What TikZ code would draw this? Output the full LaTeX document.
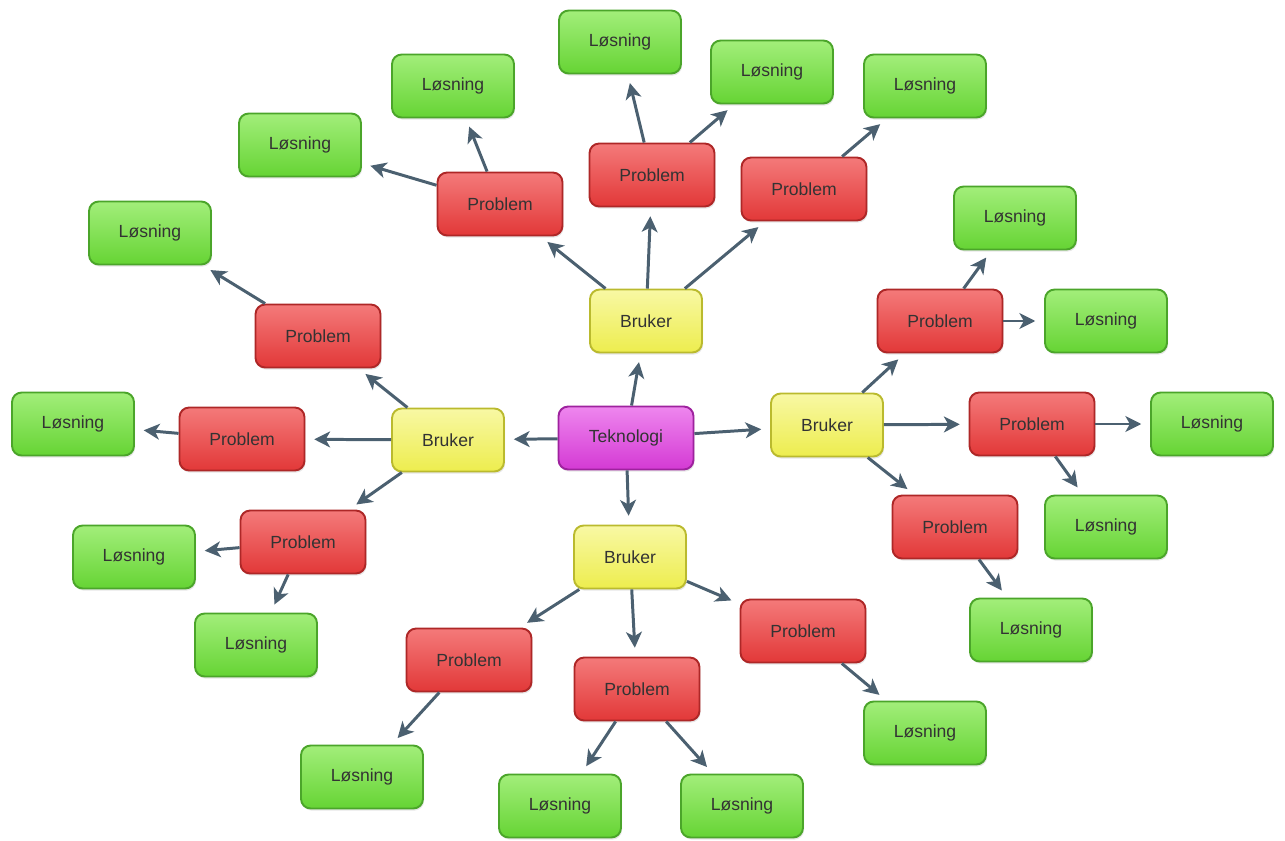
\documentclass[tikz,border=0pt]{standalone}
\usepackage{fontspec}
\setmainfont{Liberation Sans}
\usetikzlibrary{arrows.meta,shadows}
\definecolor{arrowc}{HTML}{4B6070}
\definecolor{redb}{HTML}{E23838}\definecolor{redt}{HTML}{F47A7A}\definecolor{redd}{HTML}{AE2727}
\definecolor{grnb}{HTML}{66D434}\definecolor{grnt}{HTML}{A2EE7A}\definecolor{grnd}{HTML}{4BA52A}
\definecolor{yelb}{HTML}{EDED4E}\definecolor{yelt}{HTML}{F8F8A4}\definecolor{yeld}{HTML}{BABA2E}
\definecolor{magb}{HTML}{D43AD4}\definecolor{magt}{HTML}{EE86EE}\definecolor{magd}{HTML}{9E229E}
\tikzset{
  box/.style={rounded corners=5.5pt, line width=1.1pt, minimum height=1.26cm,
    font=\fontsize{10}{12}\selectfont, text=black!80,
    drop shadow={opacity=0.2, shadow xshift=0.6pt, shadow yshift=-1.2pt}},
  tekbox/.style={box, draw=magd, top color=magt, bottom color=magb, minimum width=2.7cm},
  userbox/.style={box, draw=yeld, top color=yelt, bottom color=yelb, minimum width=2.24cm},
  probbox/.style={box, draw=redd, top color=redt, bottom color=redb, minimum width=2.5cm},
  solbox/.style={box, draw=grnd, top color=grnt, bottom color=grnb, minimum width=2.44cm},
  arr/.style={draw=arrowc, line width=1.7pt, -{Stealth[length=9pt,width=9pt,inset=2.5pt]}, shorten >=5pt}
}
\begin{document}
\begin{tikzpicture}[x=0.02cm,y=-0.02cm]
\useasboundingbox (0,0) rectangle (1285,841);
\node[tekbox] (tek) at (626,438) {Teknologi};
\node[userbox] (bT) at (646,321) {Bruker};
\node[userbox] (bL) at (448,440) {Bruker};
\node[userbox] (bR) at (827,425) {Bruker};
\node[userbox] (bB) at (630,557) {Bruker};
% top
\node[probbox] (pT1) at (500,204) {Problem};
\node[probbox] (pT2) at (652,175) {Problem};
\node[probbox] (pT3) at (804,189) {Problem};
\node[solbox] (lT1) at (453,86) {Løsning};
\node[solbox] (lT2) at (300,145) {Løsning};
\node[solbox] (lT3) at (620,42) {Løsning};
\node[solbox] (lT4) at (772,72) {Løsning};
\node[solbox] (lT5) at (925,86) {Løsning};
% left
\node[probbox] (pL1) at (318,336) {Problem};
\node[probbox] (pL2) at (242,439) {Problem};
\node[probbox] (pL3) at (303,542) {Problem};
\node[solbox] (lL1) at (150,233) {Løsning};
\node[solbox] (lL2) at (73,424) {Løsning};
\node[solbox] (lL3) at (134,557) {Løsning};
\node[solbox] (lL4) at (256,645) {Løsning};
% right
\node[probbox] (pR1) at (940,321) {Problem};
\node[probbox] (pR2) at (1032,424) {Problem};
\node[probbox] (pR3) at (955,527) {Problem};
\node[solbox] (lR1) at (1015,218) {Løsning};
\node[solbox] (lR2) at (1106,321) {Løsning};
\node[solbox] (lR3) at (1212,424) {Løsning};
\node[solbox] (lR4) at (1106,527) {Løsning};
\node[solbox] (lR5) at (1031,630) {Løsning};
% bottom
\node[probbox] (pB1) at (469,660) {Problem};
\node[probbox] (pB2) at (637,689) {Problem};
\node[probbox] (pB3) at (803,631) {Problem};
\node[solbox] (lB1) at (362,777) {Løsning};
\node[solbox] (lB2) at (560,806) {Løsning};
\node[solbox] (lB3) at (742,806) {Løsning};
\node[solbox] (lB4) at (925,733) {Løsning};
\foreach \a/\b in {tek/bT, tek/bL, tek/bR, tek/bB,
  bT/pT1, bT/pT2, bT/pT3, pT1/lT1, pT1/lT2, pT2/lT3, pT2/lT4, pT3/lT5,
  bL/pL1, bL/pL2, bL/pL3, pL1/lL1, pL2/lL2, pL3/lL3, pL3/lL4,
  bR/pR1, bR/pR2, bR/pR3, pR1/lR1, pR1/lR2, pR2/lR3, pR2/lR4, pR3/lR5,
  bB/pB1, bB/pB2, bB/pB3, pB1/lB1, pB2/lB2, pB2/lB3, pB3/lB4}
  \draw[arr] (\a) -- (\b);
\end{tikzpicture}
\end{document}
